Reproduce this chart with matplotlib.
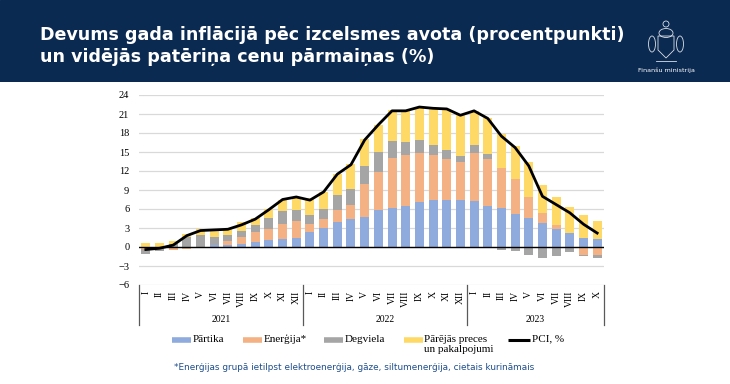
import matplotlib
matplotlib.use("Agg")
import matplotlib.pyplot as plt
import numpy as np
import matplotlib.transforms as mtransforms
from matplotlib.patches import Polygon, Circle, Ellipse

roman = ["I", "II", "III", "IV", "V", "VI", "VII", "VIII", "IX", "X", "XI", "XII"]
months = roman * 2 + roman[:10]
years = ["2021", "2022", "2023"]
year_lengths = [12, 12, 10]

partika = [0.0, 0.0, 0.05, -0.1, 0.0, 0.3, 0.3, 0.5, 0.85, 1.05, 1.2, 1.5,
           2.3, 3.05, 3.9, 4.5, 4.75, 5.8, 6.2, 6.5, 7.05, 7.5, 7.5, 7.4,
           7.2, 6.5, 6.2, 5.25, 4.6, 3.75, 2.9, 2.15, 1.5, 1.2]
energija = [-0.3, -0.2, -0.45, -0.2, -0.2, 0.05, 0.65, 1.1, 1.5, 1.85, 2.4, 2.6,
            1.3, 1.45, 1.9, 2.2, 5.25, 6.05, 7.8, 8.0, 7.75, 7.0, 6.35, 6.0,
            7.6, 7.4, 6.2, 5.45, 3.35, 1.55, 0.5, 0.05, -1.3, -1.2]
degviela = [-0.8, -0.4, 0.4, 1.6, 1.9, 1.25, 0.95, 0.95, 1.1, 1.75, 2.1, 1.7,
            1.45, 1.45, 2.35, 2.45, 2.8, 3.15, 2.7, 2.1, 2.05, 1.6, 1.5, 0.95,
            1.25, 0.8, -0.4, -0.65, -1.2, -1.7, -1.4, -0.8, -0.15, -0.55]
parejas = [0.7, 0.6, 0.5, 0.4, 0.9, 1.1, 0.9, 1.35, 1.15, 1.35, 1.8, 1.9,
           2.75, 2.75, 3.45, 3.9, 4.2, 4.25, 4.9, 4.9, 5.25, 5.8, 6.4, 6.45,
           5.45, 5.6, 5.4, 5.25, 5.55, 4.45, 4.5, 4.15, 3.5, 2.85]
pci = [-0.4, -0.2, 0.3, 1.8, 2.6, 2.7, 2.8, 3.5, 4.4, 5.9, 7.5, 7.9,
       7.4, 8.7, 11.5, 13.0, 16.9, 19.3, 21.5, 21.5, 22.1, 21.9, 21.8, 20.8,
       21.5, 20.3, 17.5, 15.7, 12.8, 8.0, 6.7, 5.4, 3.6, 2.2]

series_names = ["Pārtika", "Enerģija*", "Degviela", "Pārējās preces\nun pakalpojumi"]
series_vals = [partika, energija, degviela, parejas]
series_cols = ["#8FAADC", "#F4B183", "#A5A5A5", "#FFD966"]
pci_name = "PCI, %"

W, H = 730, 384
fig = plt.figure(figsize=(W / 100, H / 100), dpi=100)
fig.patch.set_facecolor("white")

def fx(px):
    return px / W

def fy(py):
    return 1 - py / H

# banner
ban = fig.add_axes([0, fy(82), 1, 82 / H])
ban.set_xlim(0, W)
ban.set_ylim(82, 0)
ban.axis("off")
ban.add_patch(plt.Rectangle((0, 0), W, 82, color="#0b2a52"))
# simple emblem outline
emb_kw = dict(fill=False, ec="white", lw=0.6, alpha=0.85)
ban.add_patch(Polygon([[658, 36], [674, 36], [674, 50], [666, 58], [658, 50]], closed=True, **emb_kw))
ban.add_patch(Ellipse((666, 33), 14, 9, **emb_kw))
ban.add_patch(Circle((666, 24), 3, **emb_kw))
ban.add_patch(Ellipse((652, 44), 7, 16, **emb_kw))
ban.add_patch(Ellipse((680, 44), 7, 16, **emb_kw))
ban.plot([656, 676], [61, 61], color="white", lw=0.6, alpha=0.85)

fig.text(fx(40), fy(35), "Devums gada inflācijā pēc izcelsmes avota (procentpunkti)",
         color="white", fontsize=12.6, fontweight="bold", family="DejaVu Sans",
         va="center", ha="left")
fig.text(fx(40), fy(57), "un vidējās patēriņa cenu pārmaiņas (%)",
         color="white", fontsize=12.6, fontweight="bold", family="DejaVu Sans",
         va="center", ha="left")
fig.text(fx(666), fy(70), "Finanšu ministrija", color="white", fontsize=4.6,
         family="Liberation Sans Narrow", ha="center", va="center")

# main axes
L, R, T, B = 139, 604, 95, 285
ax = fig.add_axes([fx(L), fy(B), (R - L) / W, (B - T) / H])
n = len(months)
x = np.arange(n)
pos_base = np.zeros(n)
neg_base = np.zeros(n)
for vals, col in zip(series_vals, series_cols):
    v = np.array(vals, dtype=float)
    pos = np.where(v > 0, v, 0)
    neg = np.where(v < 0, v, 0)
    ax.bar(x, pos, bottom=pos_base, width=0.66, color=col, zorder=2)
    ax.bar(x, neg, bottom=neg_base, width=0.66, color=col, zorder=2)
    pos_base += pos
    neg_base += neg
ax.axhline(0, color="black", lw=1.0, zorder=3)
ax.plot(x, pci, color="black", lw=2.0, zorder=4)

ax.set_xlim(-0.5, n - 0.5)
ax.set_ylim(-6, 24)
ax.set_yticks(np.arange(-6, 25, 3))
ax.yaxis.grid(True, color="#d9d9d9", lw=0.9, zorder=0)
for s in ax.spines.values():
    s.set_visible(False)
ax.tick_params(axis="y", length=0, pad=7, labelsize=7.5)
for lab in ax.get_yticklabels():
    lab.set_family("Liberation Serif")
ax.set_xticks(x)
ax.set_xticklabels(months, rotation=90, family="Liberation Serif", fontsize=7)
ax.tick_params(axis="x", length=0, pad=4)

trans = mtransforms.blended_transform_factory(ax.transData, ax.transAxes)
bounds = [0]
for yl in year_lengths:
    bounds.append(bounds[-1] + yl)
for b in bounds:
    ax.plot([b - 0.5, b - 0.5], [0, -(325 - B) / (B - T)], color="#595959", lw=0.9,
            transform=trans, clip_on=False)
for i, yr in enumerate(years):
    c = (bounds[i] + bounds[i + 1]) / 2 - 0.5
    ax.text(c, -(319 - B) / (B - T), yr, transform=trans, ha="center", va="center",
            family="Liberation Serif", fontsize=7)

# legend (manual)
leg_x = [172, 243, 324, 404, 508]
leg_w = [19, 19, 19, 19, 22]
leg_y = 340
labels = series_names + [pci_name]
cols = series_cols + ["black"]
for i in range(5):
    lw = 4 if i < 4 else 2.2
    fig.add_artist(plt.Line2D([fx(leg_x[i]), fx(leg_x[i] + leg_w[i])], [fy(leg_y), fy(leg_y)],
                              color=cols[i], lw=lw, solid_capstyle="butt",
                              transform=fig.transFigure))
    fig.text(fx(leg_x[i] + leg_w[i] + 1.5), fy(leg_y - 5.5), labels[i],
             family="Liberation Serif", fontsize=8, ha="left", va="top",
             linespacing=1.15)

fig.text(fx(174), fy(367),
         "*Enerģijas grupā ietilpst elektroenerģija, gāze, siltumenerģija, cietais kurināmais",
         color="#1f4e8c", fontsize=6.4, family="DejaVu Sans", ha="left", va="center")

fig.savefig("out.png", dpi=100, facecolor=fig.get_facecolor())
